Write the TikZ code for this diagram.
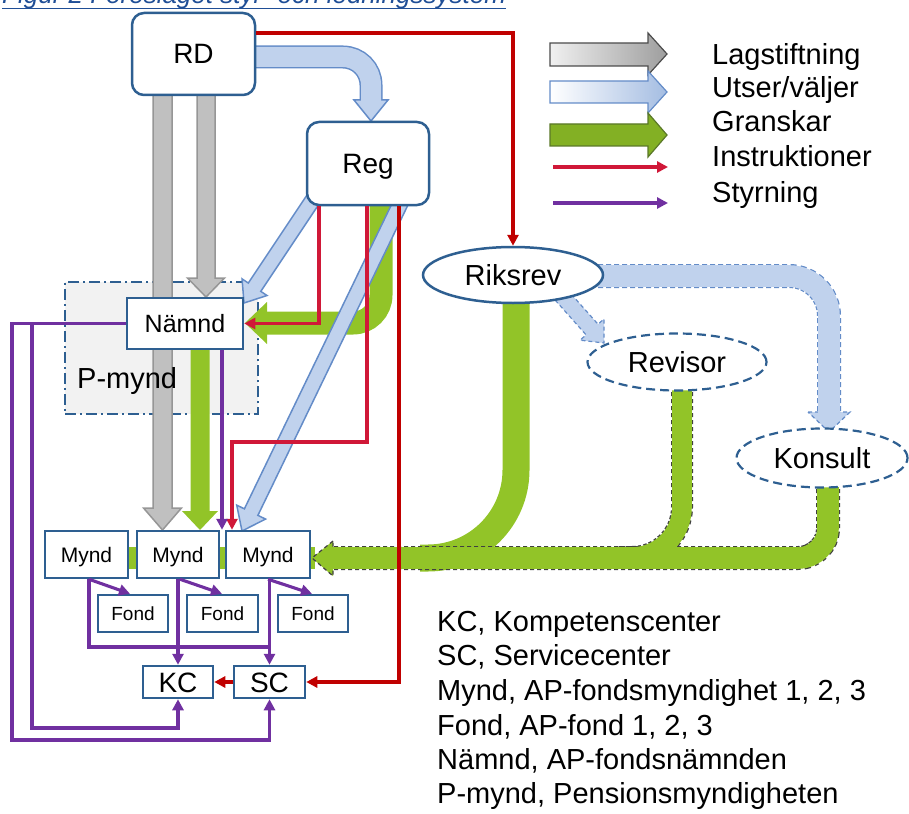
\documentclass[tikz,border=0pt]{standalone}
\usepackage{fontspec}
\setmainfont{Liberation Sans}
\usetikzlibrary{calc,arrows.meta,shapes.geometric}

\definecolor{boxblue}{RGB}{46,95,145}
\definecolor{redA}{RGB}{208,24,56}
\definecolor{redB}{RGB}{192,0,0}
\definecolor{purp}{RGB}{112,48,160}
\definecolor{grn}{RGB}{146,196,40}
\definecolor{grnd}{RGB}{90,120,40}
\definecolor{grayf}{RGB}{192,192,192}
\definecolor{grayd}{RGB}{150,150,150}
\definecolor{bluef}{RGB}{192,210,237}
\definecolor{blued}{RGB}{100,140,200}
\definecolor{pgray}{RGB}{242,242,242}
\definecolor{titleblue}{RGB}{31,78,150}

\newcommand{\fatarrow}[6]{%
  \coordinate (faC) at ($(#3)!#6!(#2)$);
  \path[#1] ($(#2)!#4!90:(#3)$) -- ($(faC)!#4!90:(#3)$) -- ($(faC)!#5!90:(#3)$) -- (#3) -- ($(faC)!#5!-90:(#3)$) -- ($(faC)!#4!-90:(#3)$) -- ($(#2)!#4!-90:(#3)$) -- cycle;}

\tikzset{
  box/.style={draw=boxblue, line width=2.5pt, fill=white, inner sep=0pt},
  rbox/.style={box, rounded corners=12pt},
  ell/.style={ellipse, draw=boxblue, line width=2.5pt, fill=white, inner sep=0pt},
  dell/.style={ell, line width=2.2pt, dash pattern=on 9pt off 5pt},
  bigtxt/.style={font=\fontsize{28}{30}\selectfont, text height=20pt, text depth=0pt},
  elltxt/.style={font=\fontsize{29}{31}\selectfont, text height=20.8pt, text depth=0pt},
  mtxt/.style={font=\fontsize{21}{23}\selectfont, text height=15pt, text depth=0pt},
  ftxt/.style={font=\fontsize{19}{21}\selectfont, text height=13.6pt, text depth=0pt},
  ntxt/.style={font=\fontsize{25}{27}\selectfont, text height=18pt, text depth=0pt},
  btxt/.style={font=\fontsize{29}{32}\selectfont, anchor=base west, inner sep=0pt},
  grayarrow/.style={fill=grayf, draw=grayd, line width=1.5pt},
  greenarrow/.style={fill=grn},
  bluearrow/.style={fill=bluef, draw=blued, line width=1.5pt},
  bluedash/.style={fill=bluef, draw=blued, line width=1.2pt, dash pattern=on 4pt off 3pt},
  dashedge/.style={draw=black!75, dash pattern=on 4pt off 3pt},
  tip/.style={-{Triangle[length=11pt,width=11pt]}},
  rlA/.style={draw=redA, line width=3.1pt, tip},
  rlB/.style={draw=redB, line width=3.1pt, tip},
  pl/.style={draw=purp, line width=3.1pt, tip},
  plno/.style={draw=purp, line width=3.1pt},
}

\begin{document}
\begin{tikzpicture}[x=1pt,y=-1pt]
\useasboundingbox (0,0) rectangle (909,813);

% title (cut at the top edge, as in the reference)
\node[anchor=base west, inner sep=0pt, text=titleblue, font=\fontsize{26}{28}\selectfont\itshape] (title) at (2,4) {Figur 2 Föreslaget styr- och ledningssystem};
\draw[titleblue, line width=1.8pt] ([yshift=-4.5pt]title.base west) -- ([yshift=-4.5pt]title.base east);

% P-mynd area
\node[draw=boxblue, line width=2pt, dash pattern=on 11pt off 4pt on 2pt off 4pt, fill=pgray, minimum width=193pt, minimum height=132pt, inner sep=0pt] (Pmynd) at (161.5,348) {};

% green band behind the Mynd row
\fill[grn] (125,547) rectangle (315,569);

% Lagstiftning arrows
\fatarrow{grayarrow}{162.5,80}{162.5,530}{9.5pt}{19pt}{22pt}
\fatarrow{grayarrow}{206,80}{206,297}{9pt}{18.5pt}{19pt}

\node[btxt] (Pmyndlabel) at (77,388) {P-mynd};

% Granskar: Riksrev, Revisor, Konsult
\draw[grn, line width=27pt, rounded corners=88pt] (516,292) -- (516,558) -- (420,558);
\draw[dashedge, line width=24pt, rounded corners=30pt] (828,475) -- (828,558) -- (333,558);
\draw[dashedge, line width=22pt, rounded corners=50pt] (682,378) -- (682,557) -- (615,557);
\path[fill=grn, draw=black!75, line width=1.2pt, dash pattern=on 4pt off 3pt] (333,541) -- (312,558) -- (333,576) -- cycle;
\draw[grn, line width=21.6pt, rounded corners=30pt] (828,475) -- (828,558) -- (331,558);
\draw[grn, line width=19.6pt, rounded corners=50pt] (682,378) -- (682,557) -- (615,557);

% Utser: Riksrev -> Konsult, Revisor
\draw[draw=blued, line width=24pt, dash pattern=on 5pt off 3pt, rounded corners=40pt] (590,276) -- (829,276) -- (829,412);
\path[bluedash] (808,412) -- (850,412) -- (829,432) -- cycle;
\draw[bluef, line width=21.6pt, rounded corners=40pt] (590,276) -- (829,276) -- (829,414);
\fatarrow{bluedash}{556,289}{604,343}{8pt}{16pt}{18pt}

% Granskar: Reg -> Nämnd
\draw[grn, line width=23pt, rounded corners=28pt] (381,195) -- (381,323) -- (265,323);
\fill[grn] (267,302) -- (245,323) -- (267,344) -- cycle;

% Utser: Reg -> Nämnd, Reg -> Mynd
\fatarrow{bluearrow}{314,198}{244,303}{7.5pt}{15pt}{19pt}
\fatarrow{bluearrow}{403,198}{242,531}{7.5pt}{16pt}{21pt}

% Utser: RD -> Reg
\draw[blued, line width=23pt, rounded corners=28pt] (240,57) -- (371,57) -- (371,100);
\path[bluearrow] (354,100) -- (388,100) -- (371,121) -- cycle;
\draw[bluef, line width=20pt, rounded corners=28pt] (240,57) -- (371,57) -- (371,101.5);

% Granskar: Nämnd -> Mynd
\fatarrow{greenarrow}{200,340}{200,530}{9.5pt}{18pt}{19pt}

% nodes
\node[rbox, bigtxt, minimum width=123pt, minimum height=82pt] (RD) at (193.5,54) {RD};
\node[rbox, bigtxt, minimum width=122pt, minimum height=83pt] (Reg) at (368,163.5) {Reg};
\node[box, ntxt, minimum width=116pt, minimum height=51pt] (Namnd) at (185,323.5) {Nämnd};
\node[box, mtxt, minimum width=83pt, minimum height=47pt] (Mynd1) at (86.5,554.5) {Mynd};
\node[box, mtxt, minimum width=82pt, minimum height=47pt] (Mynd2) at (178,554.5) {Mynd};
\node[box, mtxt, minimum width=84pt, minimum height=47pt] (Mynd3) at (268,554.5) {Mynd};
\node[box, ftxt, minimum width=70pt, minimum height=37pt] (Fond1) at (133,613.5) {Fond};
\node[box, ftxt, minimum width=71pt, minimum height=37pt] (Fond2) at (222.5,613.5) {Fond};
\node[box, ftxt, minimum width=70pt, minimum height=37pt] (Fond3) at (313,613.5) {Fond};
\node[box, bigtxt, minimum width=70pt, minimum height=32pt] (KC) at (178,682) {KC};
\node[box, bigtxt, minimum width=71pt, minimum height=32pt] (SC) at (269.5,682) {SC};
\node[ell, elltxt, minimum width=180pt, minimum height=56pt] (Riksrev) at (513,275) {Riksrev};
\node[dell, elltxt, minimum width=179pt, minimum height=57pt] (Revisor) at (677,362) {Revisor};
\node[dell, elltxt, minimum width=171pt, minimum height=59pt] (Konsult) at (822,458) {Konsult};

% Instruktioner
\draw[rlB] (RD.east |- 0,33) -| (Riksrev.north);
\draw[rlA] (Reg.south -| 319,0) |- (Namnd.east);
\draw[rlA] (Reg.south -| 367,0) |- (232,442) -- (Mynd3.north -| 232,0);
\draw[rlB] (Reg.south -| 399,0) |- (SC.east);
\draw[rlB] (SC.west) -- (KC.east);

% Styrning
\draw[pl] (Namnd.west) -| (12,740) -| (SC.south);
\draw[pl] (Namnd.west -| 32,0) -- (32,728) -| (KC.south);
\draw[pl] (Namnd.south -| 222,0) -- (Mynd2.north -| 222,0);
\draw[pl] ([xshift=2.5pt]Mynd1.south) -- ([xshift=-3pt]Fond1.north);
\draw[pl] ([xshift=2pt]Mynd2.south) -- ([xshift=-0.5pt]Fond2.north);
\draw[pl] (Mynd3.south) -- ([xshift=-1pt]Fond3.north);
\draw[plno] ([xshift=2.5pt]Mynd1.south) |- (SC.north |- 0,647);
\draw[pl] (KC.north |- Mynd2.south) -- (KC.north);
\draw[pl] (SC.north |- Mynd3.south) -- (SC.north);

% legend
\path[draw=black!70, line width=1.2pt, left color=white!94!black, right color=black!38] (550,43) -- (648,43) -- (648,33) -- (667,54) -- (648,75) -- (648,66) -- (550,66) -- cycle;
\path[draw=blued, line width=1.2pt, left color=white, right color=bluef!70!blued] (550,81) -- (648,81) -- (648,71) -- (667,92) -- (648,113) -- (648,103) -- (550,103) -- cycle;
\path[draw=grnd, line width=1.2pt, fill=grn!90!black] (550,124) -- (648,124) -- (648,113) -- (667,135) -- (648,157) -- (648,146) -- (550,146) -- cycle;
\coordinate (lrs) at (553,167);
\coordinate (lre) at (668,167);
\draw[rlA] (lrs) -- (lre);
\coordinate (lps) at (553,203);
\coordinate (lpe) at (668,203);
\draw[pl] (lps) -- (lpe);
\node[btxt] (lt1) at (712,65) {Lagstiftning};
\node[btxt] (lt2) at (712,98) {Utser/väljer};
\node[btxt] (lt3) at (712,132) {Granskar};
\node[btxt] (lt4) at (712,167) {Instruktioner};
\node[btxt] (lt5) at (712,202) {Styrning};

% abbreviations
\node[btxt] (ab1) at (437,631) {KC, Kompetenscenter};
\node[btxt] (ab2) at (437,665) {SC, Servicecenter};
\node[btxt] (ab3) at (437,700) {Mynd, AP-fondsmyndighet 1, 2, 3};
\node[btxt] (ab4) at (437,735) {Fond, AP-fond 1, 2, 3};
\node[btxt] (ab5) at (437,769) {Nämnd, AP-fondsnämnden};
\node[btxt] (ab6) at (437,803) {P-mynd, Pensionsmyndigheten};
\end{tikzpicture}
\end{document}
